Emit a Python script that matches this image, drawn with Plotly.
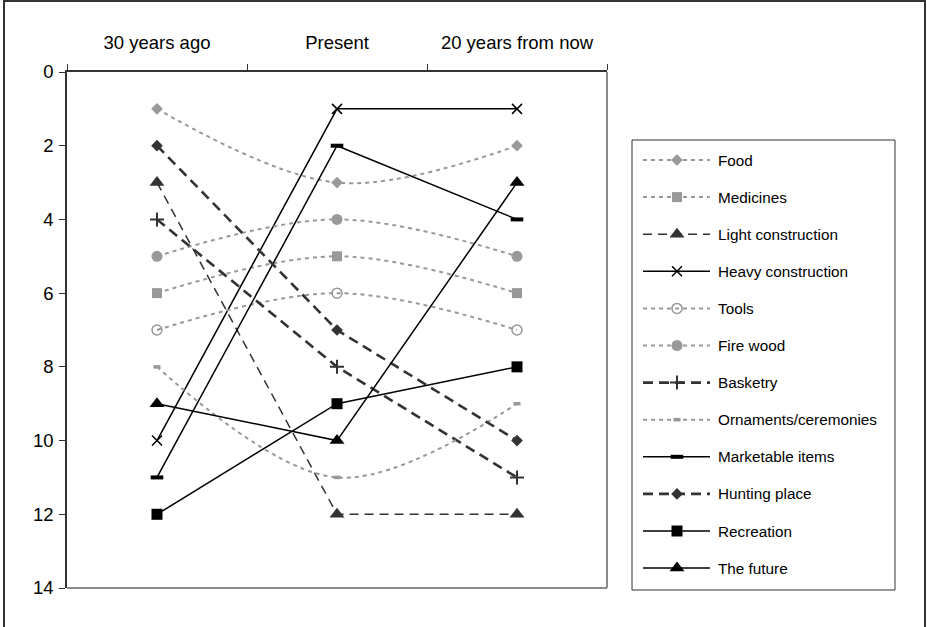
import plotly.graph_objects as go

# Figure size in pixels
W, H = 927, 627

# Category axis and rank values (1 = most important)
periods = ["30 years ago", "Present", "20 years from now"]

food = [1, 3, 2]
medicines = [6, 5, 6]
light_construction = [3, 12, 12]
heavy_construction = [10, 1, 1]
tools = [7, 6, 7]
fire_wood = [5, 4, 5]
basketry = [4, 8, 11]
ornaments = [8, 11, 9]
marketable_items = [11, 2, 4]
hunting_place = [2, 7, 10]
recreation = [12, 9, 8]
the_future = [9, 10, 3]

y_ticks = [0, 2, 4, 6, 8, 10, 12, 14]

GRAY = "#999999"
DARK = "#333333"
BLACK = "#000000"
FONT = "Liberation Sans, Arial, sans-serif"

# line styles
gray_dot = dict(color=GRAY, width=2, dash="4px,4px", shape="spline")
dark_thin = dict(color=DARK, width=1.5, dash="9px,6px")
dark_thick = dict(color=DARK, width=2.6, dash="10px,6px")
solid = dict(color=BLACK, width=1.5)

series = [
    ("Food", food, gray_dot, dict(symbol="diamond", size=9, color=GRAY)),
    ("Medicines", medicines, gray_dot, dict(symbol="square", size=10, color=GRAY)),
    ("Light construction", light_construction, dark_thin,
     dict(symbol="triangle-up", size=13, color=DARK)),
    ("Heavy construction", heavy_construction, solid,
     dict(symbol="x-thin", size=10, color=BLACK, line=dict(color=BLACK, width=1.5))),
    ("Tools", tools, gray_dot,
     dict(symbol="circle-open", size=10, color=GRAY, line=dict(color=GRAY, width=1.5))),
    ("Fire wood", fire_wood, gray_dot, dict(symbol="circle", size=11, color=GRAY)),
    ("Basketry", basketry, dark_thick,
     dict(symbol="cross-thin", size=10, color=DARK, line=dict(color=DARK, width=2))),
    ("Ornaments/ceremonies", ornaments, gray_dot,
     dict(symbol="line-ew", size=5, color=GRAY, line=dict(color=GRAY, width=3.5))),
    ("Marketable items", marketable_items, solid,
     dict(symbol="line-ew", size=9, color=BLACK, line=dict(color=BLACK, width=4))),
    ("Hunting place", hunting_place, dark_thick, dict(symbol="diamond", size=9, color=DARK)),
    ("Recreation", recreation, solid, dict(symbol="square", size=11, color=BLACK)),
    ("The future", the_future, solid, dict(symbol="triangle-up", size=13, color=BLACK)),
]

# plot area in pixels
PL, PR, PT, PB = 67, 607, 72, 588
# legend box in pixels
LX0, LX1, LY0, LY1 = 632, 895, 140, 590
ENTRY_Y0, ENTRY_STEP = 160, 37.1
KEY_X0, KEY_X1, KEY_XM, TEXT_X = 643, 710, 677, 716

fig = go.Figure()

for name, vals, line, marker in series:
    fig.add_trace(go.Scatter(
        x=periods, y=vals, name=name, mode="lines+markers",
        line=line, marker=marker, showlegend=False,
        xaxis="x", yaxis="y",
    ))

# legend keys drawn on a pixel-unit overlay axis
annotations = []
for i, (name, vals, line, marker) in enumerate(series):
    yy = ENTRY_Y0 + ENTRY_STEP * i
    key_line = {k: v for k, v in line.items() if k != "shape"}
    fig.add_trace(go.Scatter(
        x=[KEY_X0, KEY_X1], y=[yy, yy], mode="lines", line=key_line,
        showlegend=False, hoverinfo="skip", xaxis="x2", yaxis="y2",
    ))
    fig.add_trace(go.Scatter(
        x=[KEY_XM], y=[yy], mode="markers", marker=marker,
        showlegend=False, hoverinfo="skip", xaxis="x2", yaxis="y2",
    ))
    annotations.append(dict(
        x=TEXT_X, y=yy, xref="x2", yref="y2", text=name, showarrow=False,
        xanchor="left", yanchor="middle",
        font=dict(family=FONT, size=15.3, color=BLACK),
    ))

shapes = [
    # outer frame
    dict(type="rect", xref="x2", yref="y2", x0=4, x1=925, y0=1, y1=H + 5,
         line=dict(color=DARK, width=2), layer="below"),
    # plot-area border (right and bottom)
    dict(type="line", xref="x2", yref="y2", x0=PR, x1=PR, y0=PT, y1=PB,
         line=dict(color="#8c8c8c", width=2)),
    dict(type="line", xref="x2", yref="y2", x0=PL, x1=PR, y0=PB, y1=PB,
         line=dict(color="#8c8c8c", width=2)),
    # legend box
    dict(type="rect", xref="x2", yref="y2", x0=LX0, x1=LX1, y0=LY0, y1=LY1,
         line=dict(color=DARK, width=1)),
]

fig.update_layout(
    width=W, height=H,
    margin=dict(l=0, r=0, t=0, b=0, autoexpand=False),
    paper_bgcolor="white", plot_bgcolor="rgba(0,0,0,0)",
    font=dict(family=FONT, color=BLACK),
    showlegend=False,
    xaxis=dict(
        type="category", categoryorder="array", categoryarray=periods,
        range=[-0.5, 2.5], side="top", automargin=False,
        domain=[PL / W, PR / W],
        showline=True, linecolor=DARK, linewidth=1.5,
        ticks="outside", tickson="boundaries", ticklen=6, tickcolor=DARK,
        showgrid=False, zeroline=False,
        tickfont=dict(family=FONT, size=18.5, color=BLACK),
        ticklabelstandoff=14,
    ),
    yaxis=dict(
        range=[14, 0], tickvals=y_ticks, ticktext=[str(v) for v in y_ticks],
        domain=[1 - PB / H, 1 - PT / H], automargin=False,
        showline=True, linecolor=DARK, linewidth=1.5,
        ticks="outside", ticklen=6, tickcolor=DARK,
        showgrid=False, zeroline=False,
        tickfont=dict(family=FONT, size=18.5, color=BLACK),
        ticklabelstandoff=2,
    ),
    xaxis2=dict(domain=[0, 1], range=[0, W], visible=False, fixedrange=True,
                automargin=False),
    yaxis2=dict(domain=[0, 1], range=[H, 0], visible=False, fixedrange=True,
                automargin=False),
    shapes=shapes,
    annotations=annotations,
)

fig.write_html("out.html")
